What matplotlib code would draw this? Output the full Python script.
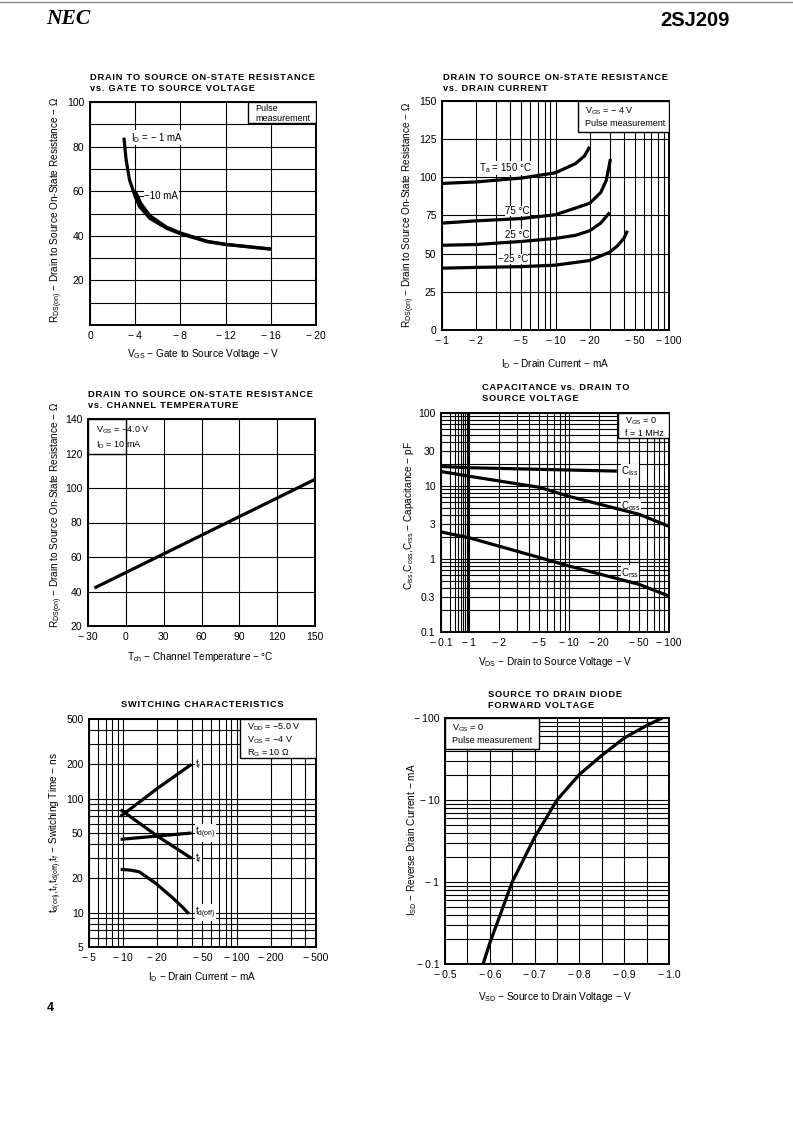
import matplotlib
matplotlib.use("Agg")
import matplotlib.pyplot as plt
import numpy as np
from matplotlib.patches import Rectangle
from matplotlib.ticker import FixedLocator, NullFormatter

plt.rcParams['font.family'] = ['Liberation Sans', 'DejaVu Sans']
plt.rcParams['mathtext.fontset'] = 'custom'
plt.rcParams['mathtext.rm'] = 'Liberation Sans'
plt.rcParams['mathtext.it'] = 'Liberation Sans:italic'
plt.rcParams['mathtext.bf'] = 'Liberation Sans:bold'

# ---- data (magnitudes, sign shown in labels) ----
# RDS(on) vs VGS
vgs_1ma = [3.0, 3.2, 3.5, 4.0, 4.4, 5.3, 6.8, 7.9, 10.4, 12.0, 16.0]
rds_1ma = [84, 74, 65, 57.6, 53, 47.8, 43.3, 41.1, 37.3, 36.1, 34.0]
vgs_10ma = [4.0, 4.5, 5.3, 6.8, 8.0, 10.4, 12.0, 16.0]
rds_10ma = [60, 54.5, 49, 43.8, 41.3, 37.5, 36.2, 34.1]

# RDS(on) vs ID
id_150 = [1, 2, 5, 10, 15, 18, 20]
rds_150 = [96, 97, 99.5, 103, 109, 114, 120]
id_75 = [1, 2, 5, 10, 20, 25, 28, 30.5]
rds_75 = [70, 71.5, 73, 75.5, 83, 90, 98, 112]
id_25 = [1, 2, 5, 10, 15, 20, 25, 30]
rds_25 = [55.5, 56, 58, 60, 62, 65, 70, 77]
id_m25 = [1, 2, 5, 10, 20, 30, 35, 40, 43]
rds_m25 = [40.5, 41, 41.5, 42.5, 45.5, 51, 55, 60, 65]

# RDS(on) vs channel temperature
tch = [-25, 0, 150]
rds_t = [42, 51, 105]

# capacitance vs VDS
vds_iss = [0.1, 1, 30]
ciss = [18.5, 17.8, 16]
vds_c = [0.1, 1, 5, 10, 50, 100]
coss = [15.8, 13.6, 9.6, 7.2, 4.1, 2.8]
crss = [2.35, 1.95, 1.05, 0.8, 0.45, 0.31]

# switching characteristics
sw_id = [9.5, 20, 40]
t_r = [70, 123, 200]
t_f = [80, 47, 30]
td_on = [44, 47, 50]
off_id = [9.5, 11.7, 13.9, 19.5, 27.5, 33, 37.8]
td_off = [24, 23.6, 22.8, 18, 13.4, 11.3, 9.8]

# source to drain diode
vsd = [0.585, 0.6, 0.65, 0.7, 0.75, 0.8, 0.85, 0.9, 0.95, 0.985]
isd = [0.1, 0.18, 1.0, 3.5, 10, 20.5, 35, 57, 81, 100]

W, H = 793, 1123
fig = plt.figure(figsize=(W / 100, H / 100), dpi=100)

M = '\u2212'
NEG = '\u2212\u2009'   # minus as drawn on the tick labels
LBL = 7.2    # axis label size
TCK = 7.5    # tick label size
NOTE = 6.5


def place(l, t, r, b):
    # pixel box -> figure fraction
    return fig.add_axes([l / W, 1 - b / H, (r - l) / W, (b - t) / H])


def ftext(x, y, s, **kw):
    fig.text(x / W, 1 - y / H, s, **kw)


def style(ax, xt, xl, yt, yl, xg=None, yg=None):
    ax.set_xticks(xt)
    ax.set_xticklabels(xl)
    ax.set_yticks(yt)
    ax.set_yticklabels(yl)
    if xg is not None:
        ax.xaxis.set_minor_locator(FixedLocator(xg))
    if yg is not None:
        ax.yaxis.set_minor_locator(FixedLocator(yg))
    ax.xaxis.set_minor_formatter(NullFormatter())
    ax.yaxis.set_minor_formatter(NullFormatter())
    ax.tick_params(which='both', length=0, labelsize=TCK, pad=4)
    ax.grid(which='both', color='black', lw=0.8)
    ax.set_axisbelow(True)
    for s in ax.spines.values():
        s.set_linewidth(1.4)


def note(ax, x0, y0, x1, y1, lines, dx=4, dy=-3, ls=1.35):
    # white box with the test conditions, text anchored at its top-left corner
    ax.add_patch(Rectangle((x0, y0), x1 - x0, y1 - y0, facecolor='white',
                           edgecolor='black', lw=1.0, zorder=3))
    ax.annotate(lines, xy=(x0, y1), xytext=(dx, dy), textcoords='offset points',
                fontsize=NOTE, va='top', ha='left', zorder=4, linespacing=ls)


def spaced(s):
    return '\n'.join('\u200a'.join(line) for line in s.split('\n'))


def title(x, y, lines):
    ftext(x, y, spaced(lines), fontsize=6.7, fontweight='bold', va='top', ha='left',
          linespacing=1.25)


def label(ax, x, y, s):
    ax.text(x, y, s, fontsize=7, va='center', zorder=4,
            bbox=dict(facecolor='white', edgecolor='none', pad=0.3))


curve = dict(color='black', lw=2.3, solid_capstyle='butt', zorder=5)

# header / footer
fig.add_artist(plt.Line2D([0, 1], [1 - 2 / H, 1 - 2 / H], color='#888888', lw=1))
ftext(46, 19, 'NEC', fontsize=15.5, fontweight='bold', style='italic',
      family='Liberation Serif', va='center')
ftext(730, 20, '2SJ209', fontsize=14.5, fontweight='bold', va='center', ha='right')
ftext(47, 1008, '4', fontsize=9, fontweight='bold', va='center')

# ---- 1: RDS(on) vs VGS ----
ax1 = place(90, 102, 316, 325)
ax1.plot(vgs_1ma, rds_1ma, **curve)
ax1.plot(vgs_10ma, rds_10ma, **curve)
ax1.set_xlim(0, 20)
ax1.set_ylim(0, 100)
style(ax1, [0, 4, 8, 12, 16, 20], ['0'] + [NEG + str(v) for v in (4, 8, 12, 16, 20)],
      [20, 40, 60, 80, 100], ['20', '40', '60', '80', '100'],
      yg=[10, 30, 50, 70, 90])
note(ax1, 14, 90.5, 20, 100, 'Pulse\nmeasurement', dx=5, dy=-1.5, ls=1.2)
label(ax1, 3.6, 84, r'I$_{\rm D}$ = ' + M + ' 1 mA')
ax1.plot([4.3, 4.7], [58, 58], color='black', lw=0.8, zorder=4)
label(ax1, 4.8, 58, M + '10 mA')
title(90, 73, 'DRAIN TO SOURCE ON-STATE RESISTANCE\nvs. GATE TO SOURCE VOLTAGE')
ftext(57, 210, r'R$_{\rm DS(on)}$ ' + M + ' Drain to Source On-State Resistance ' + M + ' Ω',
      fontsize=LBL, rotation=90, ha='center', va='center')
ftext(203, 354, r'V$_{\rm GS}$ ' + M + ' Gate to Source Voltage ' + M + ' V',
      fontsize=LBL, ha='center', va='center')

# ---- 2: RDS(on) vs ID ----
ax2 = place(442, 101, 669, 330)
ax2.set_xscale('log')
for xs, ys in [(id_150, rds_150), (id_75, rds_75), (id_25, rds_25), (id_m25, rds_m25)]:
    ax2.plot(xs, ys, **curve)
ax2.set_xlim(1, 100)
ax2.set_ylim(0, 150)
style(ax2, [1, 2, 5, 10, 20, 50, 100], [NEG + str(v) for v in (1, 2, 5, 10, 20, 50, 100)],
      [0, 25, 50, 75, 100, 125, 150], ['0', '25', '50', '75', '100', '125', '150'],
      xg=[3, 4, 6, 7, 8, 9, 30, 40, 60, 70, 80, 90])
note(ax2, 15.8, 130, 100, 150, r'V$_{\rm GS}$ = ' + M + ' 4 V' + '\nPulse measurement', dx=5)
label(ax2, 2.1, 106, r'T$_{\rm a}$ = 150 °C')
label(ax2, 3.6, 78, '75 °C')
label(ax2, 3.6, 62.5, '25 °C')
label(ax2, 3.1, 46.5, M + '25 °C')
title(443, 73, 'DRAIN TO SOURCE ON-STATE RESISTANCE\nvs. DRAIN CURRENT')
ftext(409, 215, r'R$_{\rm DS(on)}$ ' + M + ' Drain to Source On-State Resistance ' + M + ' Ω',
      fontsize=LBL, rotation=90, ha='center', va='center')
ftext(555, 364, r'I$_{\rm D}$ ' + M + ' Drain Current ' + M + ' mA',
      fontsize=LBL, ha='center', va='center')

# ---- 3: RDS(on) vs Tch ----
ax3 = place(88, 419, 315, 626)
ax3.plot(tch, rds_t, **curve)
ax3.set_xlim(-30, 150)
ax3.set_ylim(20, 140)
style(ax3, [-30, 0, 30, 60, 90, 120, 150], [NEG + '30', '0', '30', '60', '90', '120', '150'],
      [20, 40, 60, 80, 100, 120, 140], ['20', '40', '60', '80', '100', '120', '140'])
note(ax3, -30, 120, 0, 140, r'V$_{\rm GS}$ = ' + M + '4.0 V' + '\n' + r'I$_{\rm D}$ = 10 mA',
     dx=6, dy=-4, ls=1.25)
title(88, 390, 'DRAIN TO SOURCE ON-STATE RESISTANCE\nvs. CHANNEL TEMPERATURE')
ftext(57, 515, r'R$_{\rm DS(on)}$ ' + M + ' Drain to Source On-State Resistance ' + M + ' Ω',
      fontsize=LBL, rotation=90, ha='center', va='center')
ftext(200, 657, r'T$_{\rm ch}$ ' + M + ' Channel Temperature ' + M + ' °C',
      fontsize=LBL, ha='center', va='center')

# ---- 4: capacitance vs VDS (the 0.1..1 decade is drawn compressed) ----
K = 0.284


def fwd(x):
    lx = np.log10(np.clip(np.asarray(x, dtype=float), 1e-9, None))
    return np.where(lx < 0, lx * K, lx)


def inv(y):
    y = np.asarray(y, dtype=float)
    return np.where(y < 0, 10 ** (y / K), 10 ** y)


ax4 = place(441, 413, 669, 632)
ax4.set_xscale('function', functions=(fwd, inv))
ax4.set_yscale('log')
ax4.plot(vds_iss, ciss, **curve)
ax4.plot(vds_c, coss, **curve)
ax4.plot(vds_c, crss, **curve)
ax4.set_xlim(0.1, 100)
ax4.set_ylim(0.1, 100)
minors = [m * d for d in (0.1, 1, 10) for m in range(2, 10)]
style(ax4, [0.1, 1, 2, 5, 10, 20, 50, 100], [NEG + str(v) for v in ('0.1', 1, 2, 5, 10, 20, 50, 100)],
      [0.1, 0.3, 1, 3, 10, 30, 100], ['0.1', '0.3', '1', '3', '10', '30', '100'],
      xg=minors, yg=minors)
note(ax4, 31, 45, 100, 100, r'V$_{\rm GS}$ = 0' + '\nf = 1 MHz', dx=5, dy=-2, ls=1.25)
label(ax4, 33, 16, r'C$_{\rm iss}$')
label(ax4, 33, 5.3, r'C$_{\rm oss}$')
label(ax4, 33, 0.65, r'C$_{\rm rss}$')
title(482, 383, 'CAPACITANCE vs. DRAIN TO\nSOURCE VOLTAGE')
ftext(409, 516, r'C$_{\rm iss}$,C$_{\rm oss}$,C$_{\rm rss}$ ' + M + ' Capacitance ' + M + ' pF',
      fontsize=LBL, rotation=90, ha='center', va='center')
ftext(555, 662, r'V$_{\rm DS}$ ' + M + ' Drain to Source Voltage ' + M + ' V',
      fontsize=LBL, ha='center', va='center')

# ---- 5: switching characteristics ----
ax5 = place(89, 719, 316, 947)
ax5.set_xscale('log')
ax5.set_yscale('log')
ax5.plot(sw_id, t_r, **curve)
ax5.plot(sw_id, t_f, **curve)
ax5.plot(sw_id, td_on, **curve)
ax5.plot(off_id, td_off, **curve)
ax5.set_xlim(5, 500)
ax5.set_ylim(5, 500)
minors5 = [m * d for d in (1, 10, 100) for m in range(2, 10)]
style(ax5, [5, 10, 20, 50, 100, 200, 500], [NEG + str(v) for v in (5, 10, 20, 50, 100, 200, 500)],
      [5, 10, 20, 50, 100, 200, 500], ['5', '10', '20', '50', '100', '200', '500'],
      xg=minors5, yg=minors5)
note(ax5, 108, 226, 500, 500,
     r'V$_{\rm DD}$ = ' + M + '5.0 V' + '\n' + r'V$_{\rm GS}$ = ' + M + '4 V' + '\n' + r'R$_{\rm G}$ = 10 Ω',
     dx=5, dy=-2, ls=1.2)
label(ax5, 43, 200, r't$_{\rm r}$')
label(ax5, 43, 50, r't$_{\rm d(on)}$')
label(ax5, 43, 30, r't$_{\rm f}$')
label(ax5, 43, 10, r't$_{\rm d(off)}$')
title(121, 700, 'SWITCHING CHARACTERISTICS')
ftext(56, 833, r't$_{\rm d(on)}$,t$_{\rm r}$,t$_{\rm d(off)}$,t$_{\rm f}$ ' + M + ' Switching Time ' + M + ' ns',
      fontsize=LBL, rotation=90, ha='center', va='center')
ftext(202, 977, r'I$_{\rm D}$ ' + M + ' Drain Current ' + M + ' mA',
      fontsize=LBL, ha='center', va='center')

# ---- 6: source to drain diode forward voltage ----
ax6 = place(445, 718, 669, 964)
ax6.set_yscale('log')
ax6.plot(vsd, isd, **curve)
ax6.set_xlim(0.5, 1.0)
ax6.set_ylim(0.1, 100)
style(ax6, [0.5, 0.6, 0.7, 0.8, 0.9, 1.0], [NEG + v for v in ('0.5', '0.6', '0.7', '0.8', '0.9', '1.0')],
      [0.1, 1, 10, 100], [NEG + '0.1', NEG + '1', NEG + '10', NEG + '100'],
      xg=[0.55, 0.65, 0.75, 0.85, 0.95], yg=minors)
note(ax6, 0.5, 42, 0.71, 100, r'V$_{\rm GS}$ = 0' + '\nPulse measurement', dx=5, dy=-3)
title(488, 690, 'SOURCE TO DRAIN DIODE\nFORWARD VOLTAGE')
ftext(412, 840, r'I$_{\rm SD}$ ' + M + ' Reverse Drain Current ' + M + ' mA',
      fontsize=LBL, rotation=90, ha='center', va='center')
ftext(555, 997, r'V$_{\rm SD}$ ' + M + ' Source to Drain Voltage ' + M + ' V',
      fontsize=LBL, ha='center', va='center')

fig.savefig('out.png', dpi=100)
